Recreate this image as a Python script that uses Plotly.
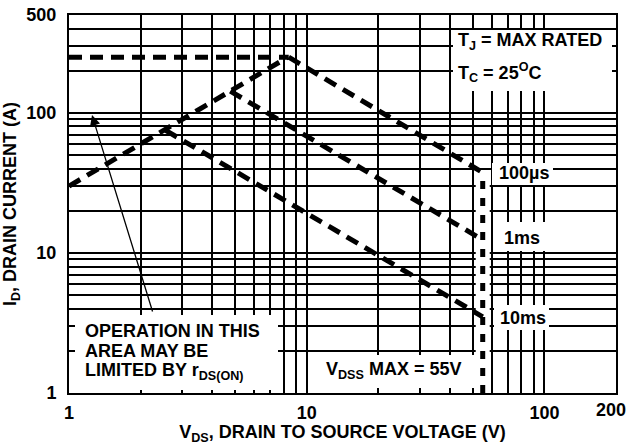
import plotly.graph_objects as go

# ---------------- data ----------------
rds_v = [1, 8.33]            # r_DS(on) limit line
rds_i = [30, 250]
imax_v = [1, 8.4]            # current limit
imax_i = [250, 250]
us100_v = [8.4, 55]          # 100 us
us100_i = [250, 37.5]
ms1_v = [4.77, 55]           # 1 ms
ms1_i = [143, 12.4]
ms10_v = [2.55, 10, 55]      # 10 ms
ms10_i = [75, 19.3, 3.5]
vdss_v = [55, 55]            # VDSS max
vdss_i = [1, 37.5]

x_ticks = [1, 10, 100, 200]
x_ticktext = ["1", "10", "100", "200"]
x_minor = [2, 3, 4, 5, 6, 7, 8, 9, 20, 30, 40, 50, 60, 70, 80, 90]
y_ticks = [1, 10, 100, 500]
y_ticktext = ["1", "10", "100", "500"]
y_minor = [2, 3, 4, 5, 6, 7, 8, 9, 20, 30, 40, 50, 60, 70, 80, 90, 200, 300, 400]

# ---------------- layout helpers (pixel -> paper) ----------------
L, R, T, B = 69, 616, 15, 393
W, H = R - L, B - T


def fx(p):
    return (p - L) / W


def fy(p):
    return (B - p) / H


FONT = "Liberation Sans, Arial, Helvetica, sans-serif"
fig = go.Figure()

dash_style = dict(color="black", width=5, dash="13px,8px")

# white halo around the VDSS line
fig.add_trace(go.Scatter(x=vdss_v, y=vdss_i, mode="lines",
                         line=dict(color="white", width=14), hoverinfo="skip"))
fig.add_trace(go.Scatter(x=imax_v, y=imax_i, mode="lines", line=dash_style))
fig.add_trace(go.Scatter(x=rds_v, y=rds_i, mode="lines", line=dash_style))
fig.add_trace(go.Scatter(x=us100_v, y=us100_i, mode="lines", line=dash_style))
fig.add_trace(go.Scatter(x=ms1_v, y=ms1_i, mode="lines", line=dash_style))
fig.add_trace(go.Scatter(x=ms10_v, y=ms10_i, mode="lines", line=dash_style))
fig.add_trace(go.Scatter(x=vdss_v, y=vdss_i, mode="lines",
                         line=dict(color="black", width=5, dash="8px,9px")))

# white boxes that interrupt the grid behind the labels
boxes = [
    (75, 315, 278, 390),    # OPERATION IN THIS AREA...
    (453, 30, 612, 91),     # TJ / TC
    (312, 355, 476, 388),   # VDSS MAX
    (492, 163, 553, 185),   # 100us
    (494, 222, 548, 251),   # 1ms
    (494, 305, 549, 330),   # 10ms
]
shapes = []
for x0, y0, x1, y1 in boxes:
    shapes.append(dict(type="rect", xref="paper", yref="paper",
                       x0=fx(x0), x1=fx(x1), y0=fy(y1), y1=fy(y0),
                       fillcolor="white", line=dict(width=0), layer="above"))

annots = []


def txt(s, x, y, size=18, xanchor="left"):
    annots.append(dict(text=s, xref="paper", yref="paper", x=fx(x), y=fy(y),
                       xanchor=xanchor, yanchor="middle", showarrow=False,
                       font=dict(size=size, color="black", family=FONT, weight="bold")))


txt("T<sub>J</sub> = MAX RATED", 456, 42)
txt("T<sub>C</sub> = 25<sup>O</sup>C", 456, 72)
txt("100µs", 497, 173)
txt("1ms", 502, 238)
txt("10ms", 498, 318)
txt("V<sub>DSS</sub> MAX = 55V", 324, 370)
txt("OPERATION IN THIS", 83, 331)
txt("AREA MAY BE", 83, 351)
txt("LIMITED BY r<sub>DS(ON)</sub>", 83, 371)
# last x tick label sits on the right border; place it just inside the canvas
txt(x_ticktext[-1], 611, 410, xanchor="center")

# arrow
annots.append(dict(text="", xref="paper", yref="paper", x=fx(92), y=fy(115),
                   ax=61, ay=198, axref="pixel", ayref="pixel", showarrow=True,
                   arrowhead=2, arrowsize=1.6, arrowwidth=1.3, arrowcolor="black"))

tickfont = dict(size=18, color="black", family=FONT, weight="bold")
axis_common = dict(type="log", showgrid=True, gridcolor="black", gridwidth=2,
                   showline=True, linecolor="black", linewidth=2, mirror=True,
                   ticks="", zeroline=False, automargin=False, tickfont=tickfont)

fig.update_layout(
    width=626, height=445,
    margin=dict(l=L, r=626 - R, t=T, b=445 - B),
    paper_bgcolor="white", plot_bgcolor="white",
    showlegend=False,
    shapes=shapes, annotations=annots,
    xaxis=dict(axis_common, range=[0, 2.30103], tickmode="array",
               tickvals=x_ticks[:-1], ticktext=x_ticktext[:-1],
               ticklabelstandoff=2,
               minor=dict(tickmode="array", tickvals=x_minor, showgrid=True,
                          gridcolor="black", gridwidth=2, ticks=""),
               title=dict(text="V<sub>DS</sub>, DRAIN TO SOURCE VOLTAGE (V)", standoff=4,
                          font=dict(size=18, color="black", family=FONT, weight="bold"))),
    yaxis=dict(axis_common, range=[0, 2.69897], tickmode="array",
               tickvals=y_ticks, ticktext=y_ticktext,
               ticklabelstandoff=7,
               minor=dict(tickmode="array", tickvals=y_minor, showgrid=True,
                          gridcolor="black", gridwidth=2, ticks=""),
               title=dict(text="I<sub>D</sub>, DRAIN CURRENT (A)", standoff=8,
                          font=dict(size=18, color="black", family=FONT, weight="bold"))),
)

fig.write_html("out.html", config={"displayModeBar": False},
               post_script="document.body.style.margin='0';")
